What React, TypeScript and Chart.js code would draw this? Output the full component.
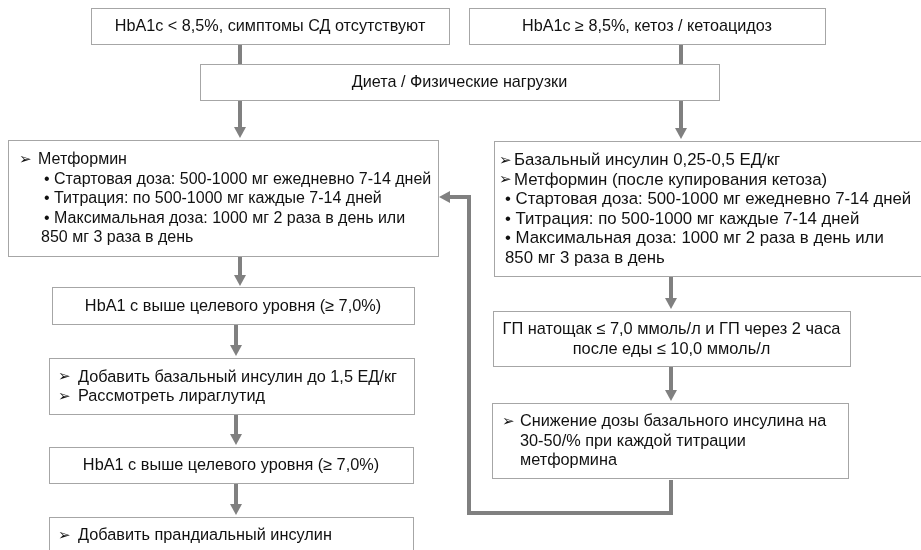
import { useEffect, useRef } from "react";
import { Chart, registerables } from "chart.js";
Chart.register(...registerables);

const CANVAS_W = 921;
const CANVAS_H = 550;

type Line = { m: "" | ">" | "•"; t: string };

// ---- Node texts ----
const mildLines: Line[] = [{ m: "", t: "HbA1c < 8,5%, симптомы СД отсутствуют" }];
const severeLines: Line[] = [{ m: "", t: "HbA1c ≥ 8,5%, кетоз / кетоацидоз" }];
const dietLines: Line[] = [{ m: "", t: "Диета / Физические нагрузки" }];
const metforminLines: Line[] = [
  { m: ">", t: "Метформин" },
  { m: "•", t: "Стартовая доза: 500-1000 мг ежедневно 7-14 дней" },
  { m: "•", t: "Титрация: по 500-1000 мг каждые 7-14 дней" },
  { m: "•", t: "Максимальная доза: 1000 мг 2 раза в день или" },
  { m: "", t: "850 мг 3 раза в день" },
];
const insulinLines: Line[] = [
  { m: ">", t: "Базальный инсулин 0,25-0,5 ЕД/кг" },
  { m: ">", t: "Метформин (после купирования кетоза)" },
  { m: "•", t: "Стартовая доза: 500-1000 мг ежедневно 7-14 дней" },
  { m: "•", t: "Титрация: по 500-1000 мг каждые 7-14 дней" },
  { m: "•", t: "Максимальная доза: 1000 мг 2 раза в день или" },
  { m: "", t: "850 мг 3 раза в день" },
];
const hba1Lines: Line[] = [{ m: "", t: "HbA1 с выше целевого уровня (≥ 7,0%)" }];
const addBasalLines: Line[] = [
  { m: ">", t: "Добавить базальный инсулин до 1,5 ЕД/кг" },
  { m: ">", t: "Рассмотреть лираглутид" },
];
const hba2Lines: Line[] = [{ m: "", t: "HbA1 с выше целевого уровня (≥ 7,0%)" }];
const prandialLines: Line[] = [{ m: ">", t: "Добавить прандиальный инсулин" }];
const gpLines: Line[] = [
  { m: "", t: "ГП натощак ≤ 7,0 ммоль/л и ГП через 2 часа" },
  { m: "", t: "после еды ≤ 10,0 ммоль/л" },
];
const reduceLines: Line[] = [
  { m: ">", t: "Снижение дозы базального инсулина на" },
  { m: "", t: "30-50/% при каждой титрации" },
  { m: "", t: "метформина" },
];

const nodeTexts: Line[][] = [
  mildLines, severeLines, dietLines, metforminLines, insulinLines,
  hba1Lines, addBasalLines, hba2Lines, prandialLines, gpLines, reduceLines,
];

// ---- Layout (chart units = px) : x, y, w, h ----
const nodeRects: number[][] = [
  [91, 8, 358, 36],
  [469, 8, 356, 36],
  [200, 64, 519, 36],
  [8, 140, 430, 116],
  [494, 141, 440, 135],
  [52, 287, 362, 37],
  [49, 358, 365, 56],
  [49, 447, 364, 36],
  [49, 517, 364, 36],
  [493, 311, 357, 55],
  [492, 403, 356, 75],
];
// alignment and indents: [centered?, arrowX, arrowTextX, bulletX, contX]
const nodeIndents: (number | boolean)[][] = [
  [true], [true], [true],
  [false, 11, 30, 36, 33],
  [false, 5, 20, 11, 11],
  [true],
  [false, 9, 29, 0, 29],
  [true],
  [false, 9, 29, 0, 29],
  [true],
  [false, 10, 28, 0, 28],
];
const nodeFontSize: number[] = [16.2, 16.2, 16.2, 16, 16.8, 16.3, 16.3, 16.3, 16.3, 16.4, 16.3];

// ---- Connectors (polyline points, last = arrow tip) ----
const connectorPaths: number[][][] = [
  [[240, 44], [240, 64]],
  [[681, 44], [681, 64]],
  [[240, 100], [240, 138]],
  [[681, 100], [681, 139]],
  [[240, 256], [240, 286]],
  [[236, 324], [236, 356]],
  [[236, 414], [236, 445]],
  [[236, 483], [236, 515]],
  [[671, 276], [671, 309]],
  [[671, 366], [671, 401]],
  [[671, 480], [671, 513], [469, 513], [469, 197], [439, 197]],
];
const connectorArrow: boolean[] = [false, false, true, true, true, true, true, true, true, true, true];

const ARROW_COLOR = "#808080";
const BOX_COLOR = "#a6a6a6";
const HEAD_LEN = 11;
const HEAD_HALF = 6;
const LINE_H = 19.5;
const TEXT_DY = 1;
const FONT_FAMILY = '"Liberation Sans", Arial, "DejaVu Sans", sans-serif';
const MARK_FONT = '15px "DejaVu Sans", sans-serif';

function shorten(path: number[][], arrow: boolean): number[][] {
  if (!arrow) return path;
  const n = path.length;
  const [x1, y1] = path[n - 2];
  const [x2, y2] = path[n - 1];
  const d = Math.hypot(x2 - x1, y2 - y1);
  const ux = (x2 - x1) / d, uy = (y2 - y1) / d;
  return [...path.slice(0, n - 1), [x2 - ux * HEAD_LEN, y2 - uy * HEAD_LEN]];
}

const flowPlugin = {
  id: "flowPlugin",
  afterDatasetsDraw(chart: any) {
    const ctx: CanvasRenderingContext2D = chart.ctx;
    const xs = chart.scales.x, ys = chart.scales.y;
    const px = (v: number) => xs.getPixelForValue(v);
    const py = (v: number) => ys.getPixelForValue(v);
    ctx.save();
    nodeRects.forEach((r, i) => {
      const x0 = Math.round(px(r[0])) + 0.5;
      const y0 = Math.round(py(r[1])) + 0.5;
      const x1 = Math.round(px(r[0] + r[2])) + 0.5;
      const y1 = Math.round(py(r[1] + r[3])) + 0.5;
      ctx.fillStyle = "#ffffff";
      ctx.fillRect(x0, y0, x1 - x0, y1 - y0);
      ctx.strokeStyle = BOX_COLOR;
      ctx.lineWidth = 1;
      ctx.strokeRect(x0, y0, x1 - x0, y1 - y0);
      const lines = nodeTexts[i];
      const ind = nodeIndents[i];
      const font = `${nodeFontSize[i]}px ${FONT_FAMILY}`;
      const cy = (py(r[1]) + py(r[1] + r[3])) / 2 + TEXT_DY;
      const startY = cy - ((lines.length - 1) * LINE_H) / 2;
      ctx.fillStyle = "#111111";
      ctx.font = font;
      ctx.textBaseline = "middle";
      lines.forEach((ln, j) => {
        const y = startY + j * LINE_H;
        if (ind[0] === true) {
          ctx.textAlign = "center";
          ctx.fillText(ln.t, (px(r[0]) + px(r[0] + r[2])) / 2, y);
        } else {
          ctx.textAlign = "left";
          const left = px(r[0]);
          if (ln.m === ">") {
            ctx.font = MARK_FONT;
            ctx.fillText("➢", left + (ind[1] as number), y);
            ctx.font = font;
            ctx.fillText(ln.t, left + (ind[2] as number), y);
          } else if (ln.m === "•") {
            ctx.fillText("• " + ln.t, left + (ind[3] as number), y);
          } else {
            ctx.fillText(ln.t, left + (ind[4] as number), y);
          }
        }
      });
    });
    ctx.fillStyle = ARROW_COLOR;
    connectorPaths.forEach((p, i) => {
      if (!connectorArrow[i]) return;
      const n = p.length;
      const tx = px(p[n - 1][0]), ty = py(p[n - 1][1]);
      const fx = px(p[n - 2][0]), fy = py(p[n - 2][1]);
      const d = Math.hypot(tx - fx, ty - fy);
      const ux = (tx - fx) / d, uy = (ty - fy) / d;
      const bx = tx - ux * HEAD_LEN, by = ty - uy * HEAD_LEN;
      ctx.beginPath();
      ctx.moveTo(tx, ty);
      ctx.lineTo(bx - uy * HEAD_HALF, by + ux * HEAD_HALF);
      ctx.lineTo(bx + uy * HEAD_HALF, by - ux * HEAD_HALF);
      ctx.closePath();
      ctx.fill();
    });
    ctx.restore();
  },
};

export default function App() {
  const ref = useRef<HTMLCanvasElement | null>(null);
  useEffect(() => {
    document.body.style.margin = "0";
    if (!ref.current) return;
    const chart = new Chart(ref.current, {
      type: "scatter",
      data: {
        datasets: connectorPaths.map((p, i) => ({
          data: shorten(p, connectorArrow[i]).map(([x, y]) => ({ x, y })),
          showLine: true,
          borderColor: ARROW_COLOR,
          backgroundColor: ARROW_COLOR,
          borderWidth: 4,
          pointRadius: 0,
          pointHoverRadius: 0,
          tension: 0,
          borderJoinStyle: "miter" as const,
          borderCapStyle: "butt" as const,
          fill: false,
        })),
      },
      options: {
        animation: false,
        responsive: false,
        events: [],
        layout: { padding: 0 },
        scales: {
          x: { type: "linear", min: 0, max: CANVAS_W, display: false },
          y: { type: "linear", min: 0, max: CANVAS_H, reverse: true, display: false },
        },
        plugins: { legend: { display: false }, tooltip: { enabled: false } },
      },
      plugins: [flowPlugin],
    });
    return () => chart.destroy();
  }, []);
  return (
    <div style={{ width: CANVAS_W, height: CANVAS_H, background: "#fff" }}>
      <canvas ref={ref} width={CANVAS_W} height={CANVAS_H} style={{ display: "block" }} />
    </div>
  );
}
